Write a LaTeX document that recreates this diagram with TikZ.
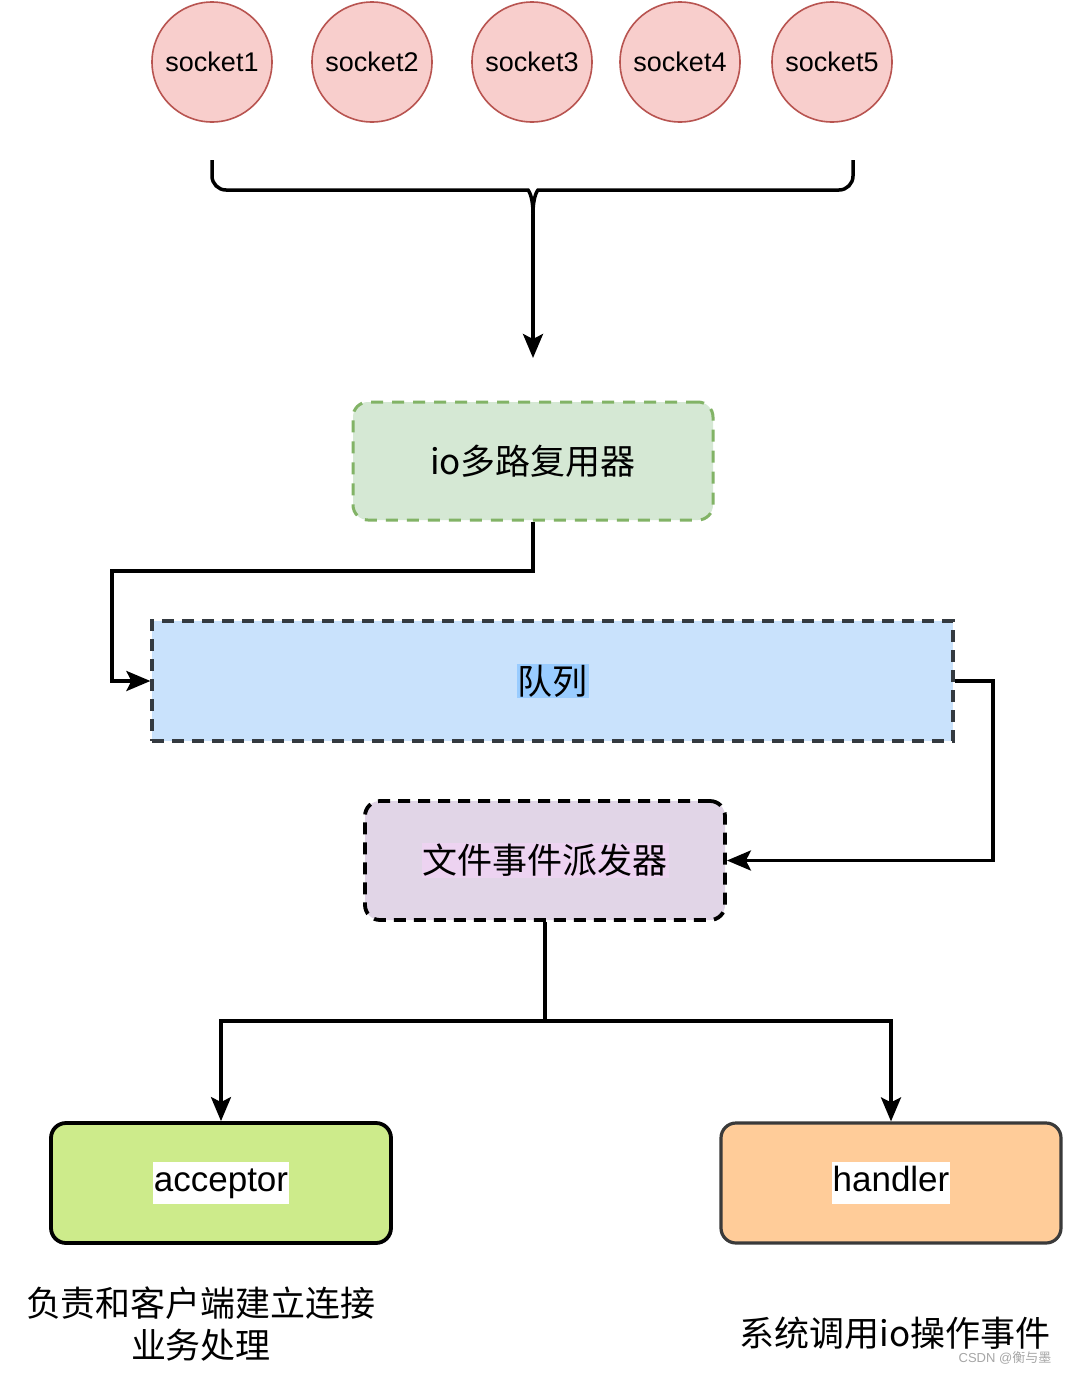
\documentclass[tikz,border=0pt]{standalone}
\usepackage{fontspec}
\setmainfont{Liberation Sans}
\newfontfamily\cjk{Noto Sans CJK SC}
\usetikzlibrary{arrows.meta}
\definecolor{sockfill}{HTML}{F8CECC}
\definecolor{sockline}{HTML}{B85450}
\definecolor{iofill}{HTML}{D5E8D4}
\definecolor{ioline}{HTML}{82B366}
\definecolor{qfill}{HTML}{C9E2FC}
\definecolor{qline}{HTML}{343A40}
\definecolor{qhl}{HTML}{99CCFF}
\definecolor{dfill}{HTML}{E1D5E7}
\definecolor{dhl}{HTML}{EDD3F1}
\definecolor{accfill}{HTML}{CDEB8B}
\definecolor{hanfill}{HTML}{FFCC99}
\definecolor{hanline}{HTML}{3A3A3A}
\begin{document}
\begin{tikzpicture}[x=1pt,y=-1pt,
  sock/.style={circle, draw=sockline, fill=sockfill, line width=1.6pt, minimum size=120pt, inner sep=0pt, font=\fontsize{27}{30}\selectfont},
  conn/.style={line width=3.5pt, draw=black},
  arr/.style={conn, -{Stealth[length=24pt,width=20pt,inset=5pt]}},
  iobox/.style={rounded corners=15pt, draw=ioline, fill=iofill, line width=3pt, dash pattern=on 12pt off 9pt, minimum width=360pt, minimum height=118pt, font=\fontsize{35}{40}\selectfont\cjk},
  qbox/.style={draw=qline, fill=qfill, line width=3.2pt, dash pattern=on 12pt off 8pt, minimum width=801pt, minimum height=120pt, font=\fontsize{35}{40}\selectfont\cjk},
  dbox/.style={rounded corners=15pt, draw=black, fill=dfill, line width=3.8pt, dash pattern=on 12pt off 8pt, minimum width=360pt, minimum height=119pt, font=\fontsize{35}{40}\selectfont\cjk},
  accbox/.style={rounded corners=15pt, draw=black, fill=accfill, line width=3.8pt, minimum width=340pt, minimum height=120pt, font=\fontsize{35}{40}\selectfont},
  hanbox/.style={rounded corners=15pt, draw=hanline, fill=hanfill, line width=3.2pt, minimum width=340pt, minimum height=120pt, font=\fontsize{35}{40}\selectfont},
  note/.style={font=\fontsize{35}{42}\selectfont\cjk, align=center, inner sep=0pt}
]
\useasboundingbox (0,0) rectangle (1066,1374);
\fill[white] (0,0) rectangle (1066,1374);

% sockets
\node[sock] (s1) at (212,62) {socket1};
\node[sock] (s2) at (372,62) {socket2};
\node[sock] (s3) at (532,62) {socket3};
\node[sock] (s4) at (680,62) {socket4};
\node[sock] (s5) at (832,62) {socket5};

% brace
\coordinate (bl) at (212,160);
\coordinate (br) at (853,160);
\coordinate (bt) at (533,214);
\coordinate (ioin) at (533,358);
\draw[conn] (bl) [rounded corners=14pt] -- (212,190) -- (514,190) [sharp corners] .. controls (528,190) and (533,195) .. (bt);
\draw[conn] (br) [rounded corners=14pt] -- (853,190) -- (552,190) [sharp corners] .. controls (538,190) and (533,195) .. (bt);
\draw[arr] (bt) -- (ioin);

% boxes
\node[iobox] (io) at (533,461) {io多路复用器};
\node[qbox] (q) at (552.5,681) {\setlength{\fboxsep}{1pt}\colorbox{qhl}{队列}};
\node[dbox] (d) at (545,860.5) {\setlength{\fboxsep}{1pt}\colorbox{dhl}{文件事件派发器}};
\node[accbox] (acc) at (221,1183) {\setlength{\fboxsep}{1pt}\colorbox{white}{\strut acceptor}};
\node[hanbox] (han) at (891,1183) {\setlength{\fboxsep}{1pt}\colorbox{white}{\strut handler}};

% connectors
\draw[arr] (io.south) -- (533,571) -- (112,571) -- (112,681) -- (q.west);
\draw[arr] (q.east) -- (993,681) -- (993,860.5) -- (d.east);
\coordinate (split) at (545,1021);
\draw[conn] (d.south) -- (split);
\draw[arr] (split) -| (acc.north);
\draw[arr] (split) -| (han.north);

% notes
\node[note] (t1) at (201,1324) {负责和客户端建立连接\\业务处理};
\node[note] (t2) at (895,1333) {系统调用io操作事件};
\node[font=\fontsize{13}{15}\selectfont, text=gray!70, inner sep=0pt] (wm) at (1005,1358) {CSDN @{\cjk 衡与墨}};
\end{tikzpicture}
\end{document}
